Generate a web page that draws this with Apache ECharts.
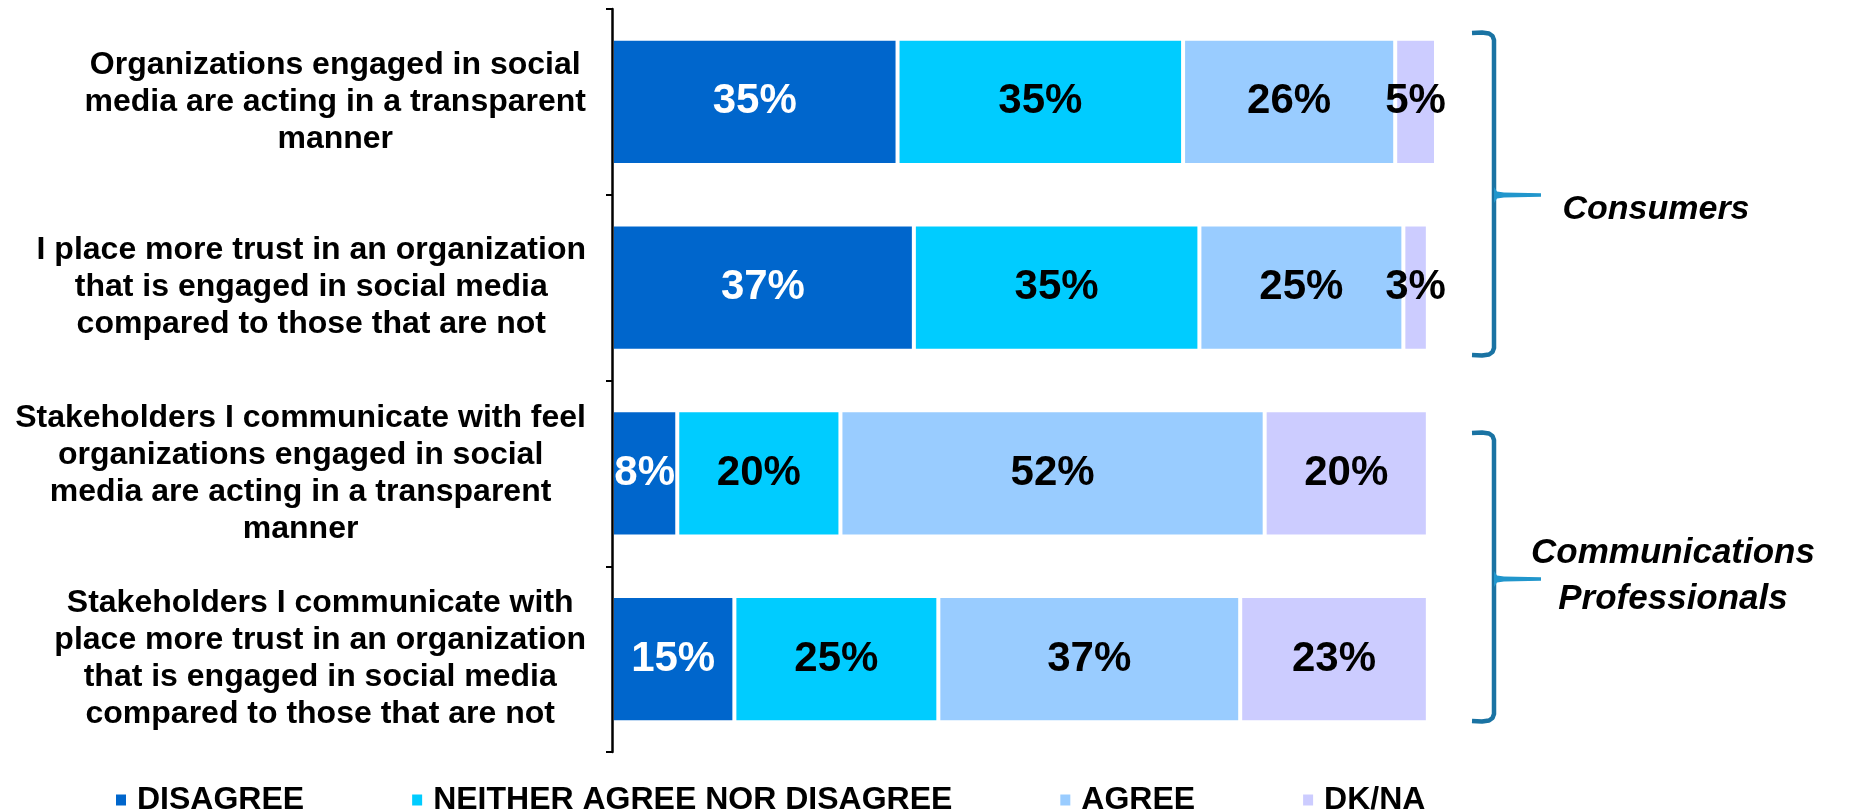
<!DOCTYPE html>
<html>
<head>
<meta charset="utf-8">
<script src="https://cdn.jsdelivr.net/npm/echarts@6/dist/echarts.min.js"></script>
<style>
html,body{margin:0;padding:0;background:#fff;}
#chart{width:1850px;height:812px;}
</style>
</head>
<body>
<div id="chart"></div>
<script>
const categories = [
  "Organizations engaged in social\nmedia are acting in a transparent\nmanner",
  "I place more trust in an organization\nthat is engaged in social media\ncompared to those that are not",
  "Stakeholders I communicate with feel\norganizations engaged in social\nmedia are acting in a transparent\nmanner",
  "Stakeholders I communicate with\nplace more trust in an organization\nthat is engaged in social media\ncompared to those that are not"
];
const seriesNames = ["DISAGREE", "NEITHER AGREE NOR DISAGREE", "AGREE", "DK/NA"];
const disagree = [35, 37, 8, 15];
const neither = [35, 35, 20, 25];
const agree = [26, 25, 52, 37];
const dkna = [5, 3, 20, 23];
const groupLabels = ["Consumers", "Communications\nProfessionals"];

const colors = ["#0066CC", "#00CCFF", "#99CCFF", "#CCCCFF"];
const labelColors = ["#ffffff", "#000000", "#000000", "#000000"];
const FONT = '"Liberation Sans", Arial, Helvetica, sans-serif';
const values = [disagree, neither, agree, dkna];

const chart = echarts.init(document.getElementById('chart'), null, {renderer: 'canvas'});

const series = values.map((arr, i) => ({
  name: seriesNames[i],
  type: 'bar',
  stack: 'total',
  barWidth: '68%',
  clip: false,
  data: arr,
  itemStyle: {color: colors[i], borderColor: '#ffffff', borderWidth: 2},
  label: {
    show: true,
    position: 'inside',
    formatter: '{c}%',
    color: labelColors[i],
    fontFamily: FONT,
    fontWeight: 'bold',
    fontSize: 42
  },
  emphasis: {disabled: true}
}));

function bracketPoints(x, yTop, yBot) {
  return [
    [x - 22, yTop], [x - 12, yTop - 0.5], [x - 5, yTop + 0.5], [x - 1.5, yTop + 3], [x, yTop + 7],
    [x, yBot - 7], [x - 1.5, yBot - 3], [x - 5, yBot - 0.5], [x - 12, yBot + 0.5], [x - 22, yBot]
  ];
}
function tipPoints(x, yTip) {
  return [
    [x, yTip - 8], [x + 3, yTip - 3.5], [x + 10, yTip - 2.4], [x + 47, yTip - 1.8],
    [x + 47, yTip + 1.8], [x + 10, yTip + 2.4], [x + 3, yTip + 3.5], [x, yTip + 8]
  ];
}

const bracketColor = '#1a73a3';
const tipColor = '#2196cc';
const graphic = [
  {type: 'polyline', shape: {points: bracketPoints(1494, 33, 355)}, style: {fill: null, stroke: bracketColor, lineWidth: 4.5, lineJoin: 'round'}},
  {type: 'polygon', shape: {points: tipPoints(1494, 195)}, style: {fill: tipColor, stroke: null}},
  {type: 'polyline', shape: {points: bracketPoints(1494, 433, 721)}, style: {fill: null, stroke: bracketColor, lineWidth: 4.5, lineJoin: 'round'}},
  {type: 'polygon', shape: {points: tipPoints(1494, 579)}, style: {fill: tipColor, stroke: null}},
  {type: 'text', x: 1656, y: 210, style: {text: groupLabels[0], font: 'italic bold 34px ' + FONT, fill: '#000', align: 'center', verticalAlign: 'middle'}},
  {type: 'text', x: 1673, y: 576, style: {text: groupLabels[1], font: 'italic bold 35px ' + FONT, lineHeight: 46, fill: '#000', align: 'center', verticalAlign: 'middle'}}
];

chart.setOption({
  backgroundColor: '#ffffff',
  animation: false,
  color: colors,
  grid: {left: 612, top: 9, width: 824, height: 743, containLabel: false},
  xAxis: {type: 'value', min: 0, max: 101, show: false},
  yAxis: {
    type: 'category',
    inverse: true,
    z: 5,
    data: categories,
    axisLine: {show: true, lineStyle: {color: '#000', width: 2.5}},
    axisTick: {show: true, length: 6, lineStyle: {color: '#000', width: 2}},
    splitLine: {show: false},
    axisLabel: {
      margin: 26,
      formatter: v => v.split('\n').map(s => '{c|' + s + '}').join('\n'),
      rich: {
        c: {align: 'center', fontFamily: FONT, fontWeight: 'bold', fontSize: 32, lineHeight: 37, color: '#000'}
      }
    }
  },
  legend: {
    left: 114,
    top: 784,
    padding: 0,
    itemGap: 106,
    itemWidth: 12,
    itemHeight: 13,
    icon: 'rect',
    selectedMode: false,
    data: seriesNames,
    textStyle: {fontFamily: FONT, fontWeight: 'bold', fontSize: 32, color: '#000', padding: [0, 0, 0, 5]}
  },
  graphic: graphic,
  series: series
});
</script>
</body>
</html>
